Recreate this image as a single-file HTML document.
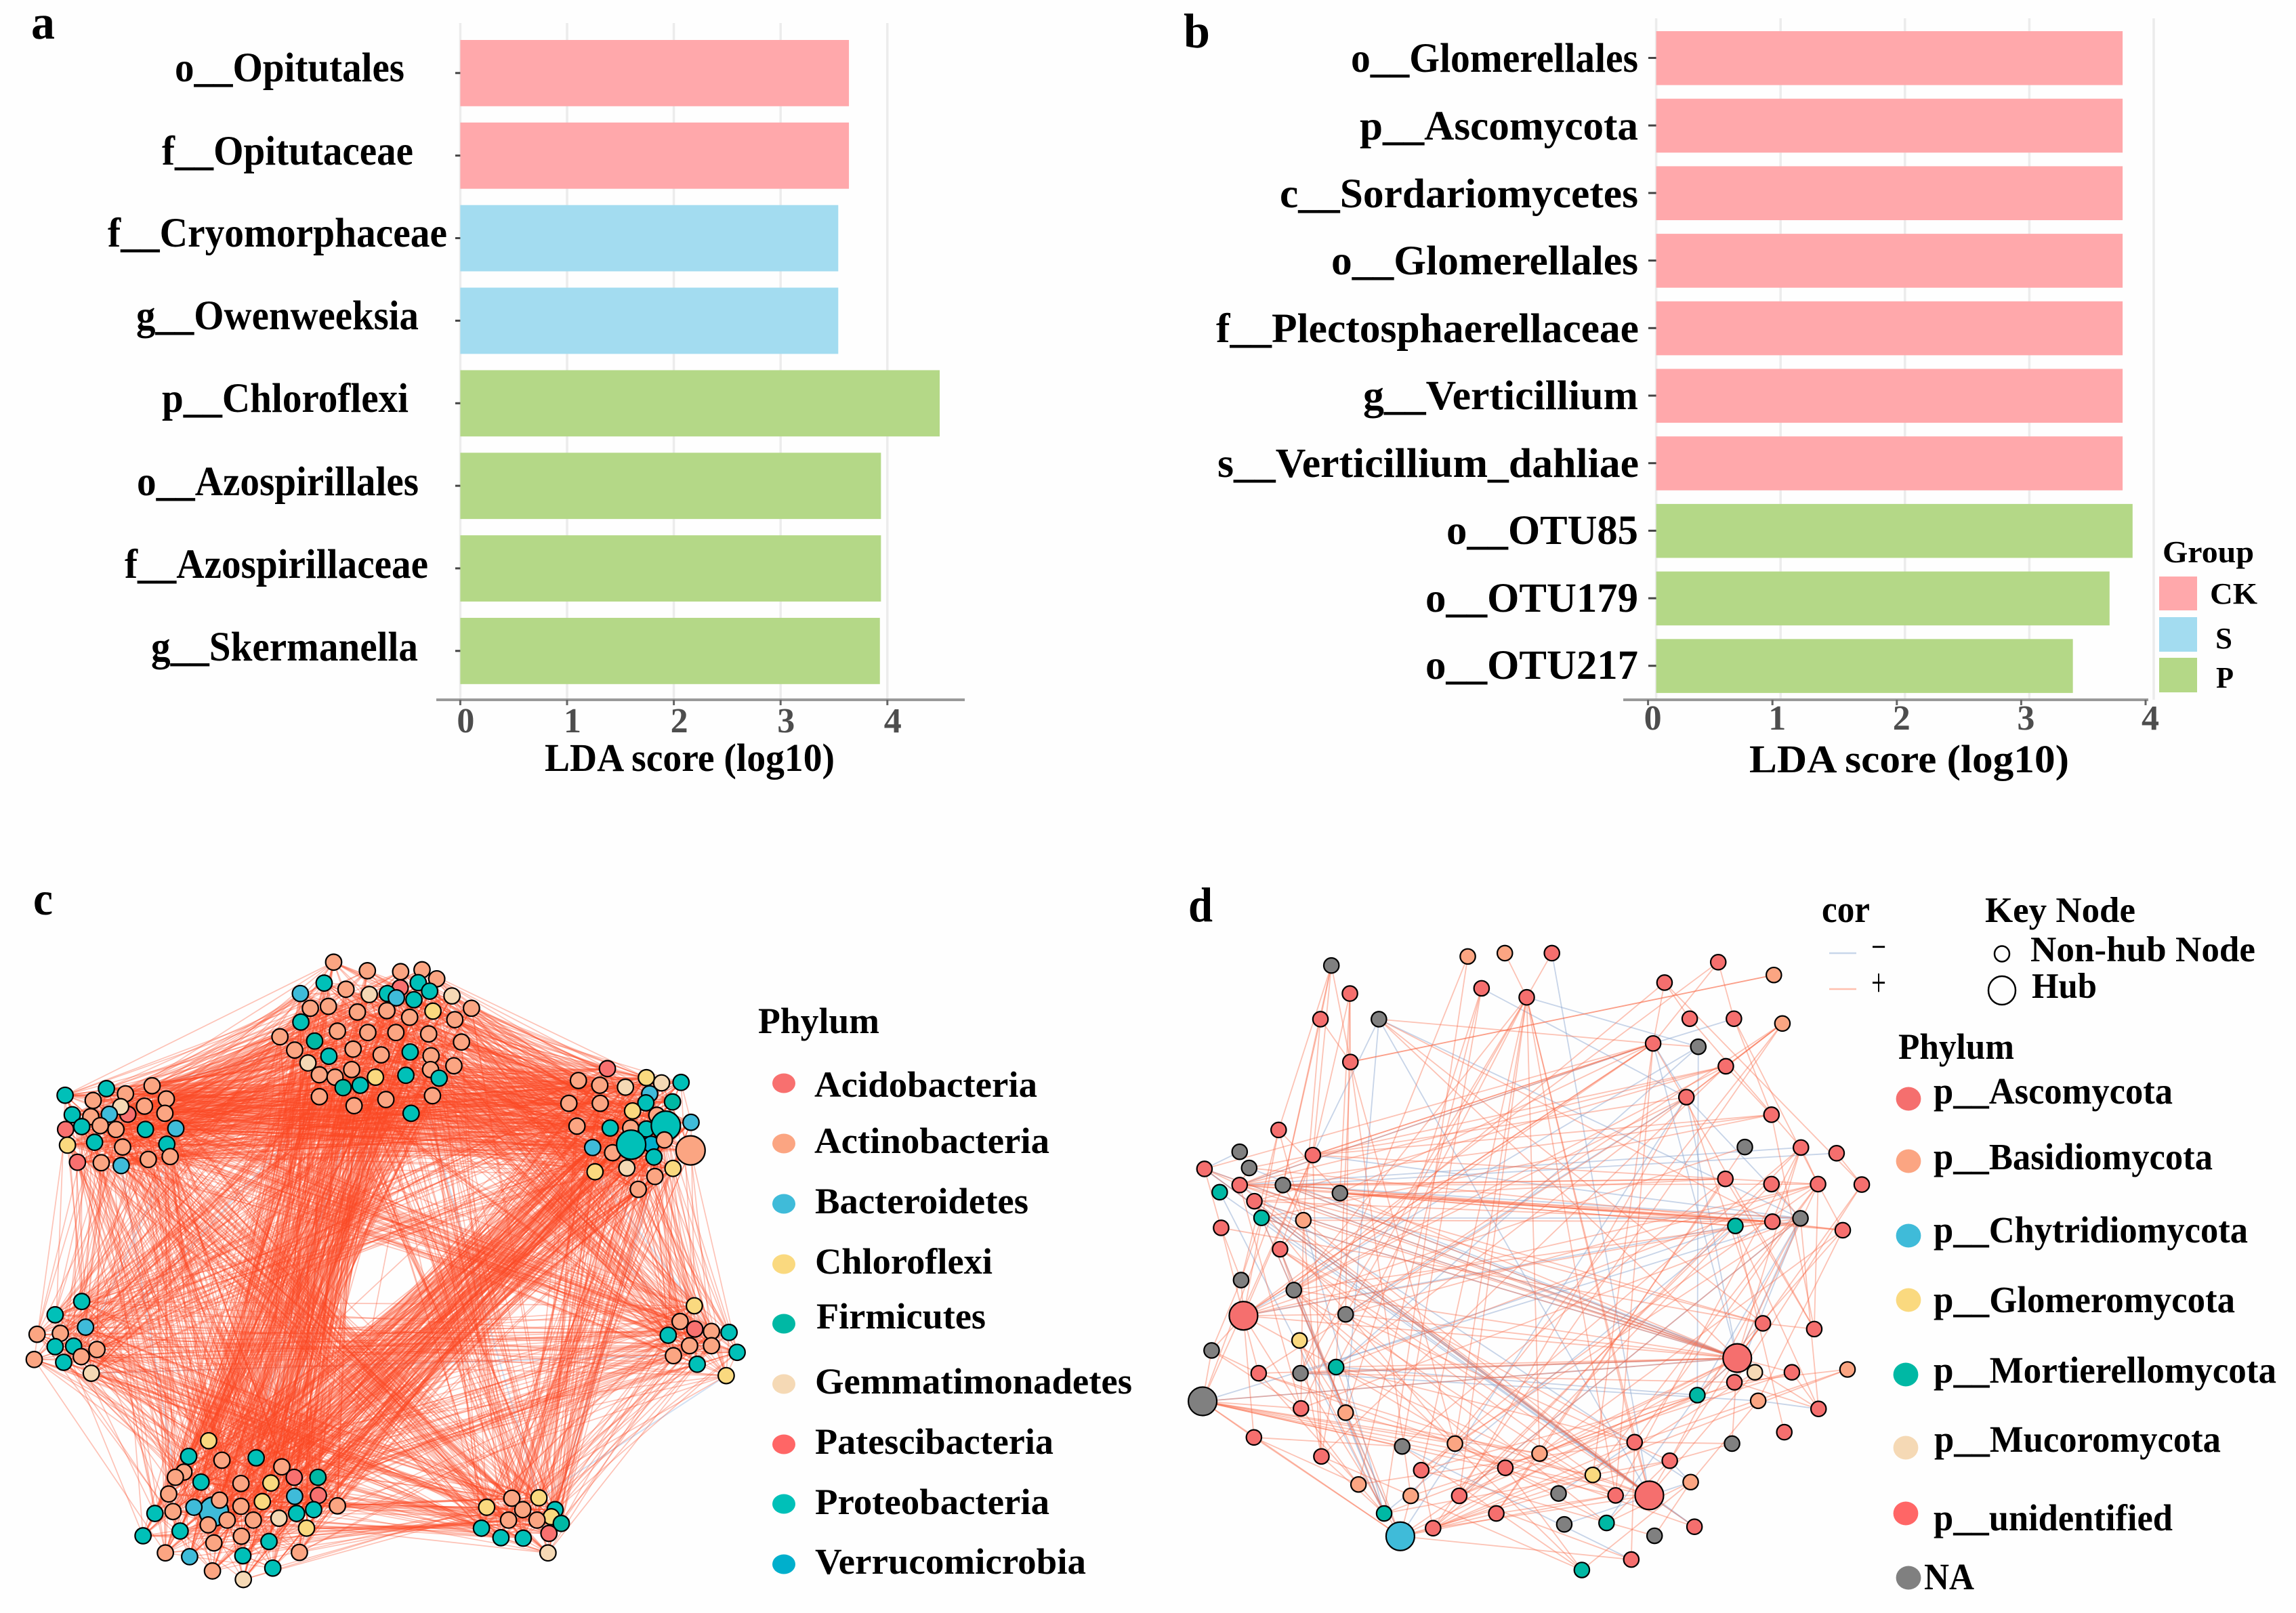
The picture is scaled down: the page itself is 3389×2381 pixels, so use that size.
<!DOCTYPE html>
<html lang="en">
<head>
<meta charset="utf-8">
<title>LDA scores and co-occurrence networks</title>
<style>
html,body{margin:0;padding:0;background:#fefefe}
svg{display:block}
text{font-family:"Liberation Serif",serif;font-weight:bold;fill:#000}
</style>
</head>
<body>
<svg id="figure" xmlns="http://www.w3.org/2000/svg" width="3389" height="2381" viewBox="0 0 3389 2381">
<rect width="3389" height="2381" fill="#fefefe"/>
<g id="panelA"></g>
<g id="panelB"></g>
<g id="panelC"></g>
<g id="panelD"></g>

<text x="46" y="57" font-size="72" textLength="35" lengthAdjust="spacingAndGlyphs">a</text>
<text x="1747" y="70" font-size="72" textLength="39" lengthAdjust="spacingAndGlyphs">b</text>
<text x="49" y="1350" font-size="70" textLength="29" lengthAdjust="spacingAndGlyphs">c</text>
<text x="1754" y="1360" font-size="72" textLength="36" lengthAdjust="spacingAndGlyphs">d</text>

<g font-size="61">
<text x="258" y="120" textLength="339" lengthAdjust="spacingAndGlyphs">o__Opitutales</text>
<text x="239" y="243" textLength="371" lengthAdjust="spacingAndGlyphs">f__Opitutaceae</text>
<text x="159" y="364" textLength="501" lengthAdjust="spacingAndGlyphs">f__Cryomorphaceae</text>
<text x="201" y="486" textLength="417" lengthAdjust="spacingAndGlyphs">g__Owenweeksia</text>
<text x="239" y="608" textLength="364" lengthAdjust="spacingAndGlyphs">p__Chloroflexi</text>
<text x="202" y="731" textLength="416" lengthAdjust="spacingAndGlyphs">o__Azospirillales</text>
<text x="184" y="853" textLength="448" lengthAdjust="spacingAndGlyphs">f__Azospirillaceae</text>
<text x="223" y="975" textLength="394" lengthAdjust="spacingAndGlyphs">g__Skermanella</text>
</g>
<text x="804" y="1138" font-size="58" textLength="428" lengthAdjust="spacingAndGlyphs">LDA score (log10)</text>

<g font-size="61">
<text x="1994" y="106" textLength="424" lengthAdjust="spacingAndGlyphs">o__Glomerellales</text>
<text x="2007" y="206" textLength="411" lengthAdjust="spacingAndGlyphs">p__Ascomycota</text>
<text x="1889" y="306" textLength="529" lengthAdjust="spacingAndGlyphs">c__Sordariomycetes</text>
<text x="1965" y="405" textLength="453" lengthAdjust="spacingAndGlyphs">o__Glomerellales</text>
<text x="1795" y="505" textLength="624" lengthAdjust="spacingAndGlyphs">f__Plectosphaerellaceae</text>
<text x="2012" y="604" textLength="406" lengthAdjust="spacingAndGlyphs">g__Verticillium</text>
<text x="1797" y="704" textLength="622" lengthAdjust="spacingAndGlyphs">s__Verticillium_dahliae</text>
<text x="2135" y="803" textLength="283" lengthAdjust="spacingAndGlyphs">o__OTU85</text>
<text x="2104" y="903" textLength="314" lengthAdjust="spacingAndGlyphs">o__OTU179</text>
<text x="2104" y="1002" textLength="314" lengthAdjust="spacingAndGlyphs">o__OTU217</text>
</g>
<text x="2582" y="1140" font-size="58" textLength="472" lengthAdjust="spacingAndGlyphs">LDA score (log10)</text>

<g>
<text x="3192" y="830" font-size="46" textLength="135" lengthAdjust="spacingAndGlyphs">Group</text>
<rect x="3187" y="851" width="56" height="50" fill="#ffa8ab"/>
<rect x="3187" y="911" width="56" height="51" fill="#a3dcf0"/>
<rect x="3187" y="971" width="56" height="51" fill="#b4d887"/>
<text x="3262" y="891" font-size="44" textLength="70" lengthAdjust="spacingAndGlyphs">CK</text>
<text x="3270" y="957" font-size="44" textLength="25" lengthAdjust="spacingAndGlyphs">S</text>
<text x="3271" y="1015" font-size="44" textLength="26" lengthAdjust="spacingAndGlyphs">P</text>
</g>

<g font-size="54">
<text x="1119" y="1525" textLength="179" lengthAdjust="spacingAndGlyphs">Phylum</text>
<ellipse cx="1157" cy="1599" rx="17" ry="14.5" fill="#f8706f"/>
<ellipse cx="1157" cy="1688" rx="17" ry="14.5" fill="#fba582"/>
<ellipse cx="1157" cy="1777" rx="17" ry="14.5" fill="#3fbbd9"/>
<ellipse cx="1157" cy="1866" rx="17" ry="14.5" fill="#fad97f"/>
<ellipse cx="1157" cy="1954" rx="17" ry="14.5" fill="#00b8a4"/>
<ellipse cx="1157" cy="2043" rx="17" ry="14.5" fill="#f5d9b5"/>
<ellipse cx="1157" cy="2132" rx="17" ry="14.5" fill="#ff6666"/>
<ellipse cx="1157" cy="2220" rx="17" ry="14.5" fill="#00c0b8"/>
<ellipse cx="1157" cy="2309" rx="17" ry="14.5" fill="#00afcc"/>
<text x="1202" y="1619" textLength="329" lengthAdjust="spacingAndGlyphs">Acidobacteria</text>
<text x="1202" y="1702" textLength="347" lengthAdjust="spacingAndGlyphs">Actinobacteria</text>
<text x="1203" y="1791" textLength="315" lengthAdjust="spacingAndGlyphs">Bacteroidetes</text>
<text x="1203" y="1880" textLength="262" lengthAdjust="spacingAndGlyphs">Chloroflexi</text>
<text x="1205" y="1961" textLength="250" lengthAdjust="spacingAndGlyphs">Firmicutes</text>
<text x="1203" y="2057" textLength="468" lengthAdjust="spacingAndGlyphs">Gemmatimonadetes</text>
<text x="1203" y="2146" textLength="352" lengthAdjust="spacingAndGlyphs">Patescibacteria</text>
<text x="1203" y="2235" textLength="346" lengthAdjust="spacingAndGlyphs">Proteobacteria</text>
<text x="1203" y="2323" textLength="400" lengthAdjust="spacingAndGlyphs">Verrucomicrobia</text>
</g>

<g>
<text x="2689" y="1361" font-size="56" textLength="71" lengthAdjust="spacingAndGlyphs">cor</text>
<line x1="2700" x2="2740" y1="1407" y2="1407" stroke="#c8d6ea" stroke-width="2.5"/>
<line x1="2700" x2="2740" y1="1460" y2="1460" stroke="#ffc0ae" stroke-width="2.5"/>
<text x="2762" y="1417" font-size="58" textLength="22" lengthAdjust="spacingAndGlyphs" style="font-weight:normal">−</text>
<text x="2762" y="1470" font-size="58" textLength="22" lengthAdjust="spacingAndGlyphs" style="font-weight:normal">+</text>
<text x="2930" y="1361" font-size="53" textLength="222" lengthAdjust="spacingAndGlyphs">Key Node</text>
<ellipse cx="2955" cy="1408" rx="11" ry="11.5" fill="none" stroke="#000" stroke-width="2.5"/>
<ellipse cx="2955" cy="1462" rx="20" ry="21" fill="none" stroke="#000" stroke-width="2.5"/>
<text x="2997" y="1419" font-size="53" textLength="332" lengthAdjust="spacingAndGlyphs">Non-hub Node</text>
<text x="2999" y="1473" font-size="53" textLength="96" lengthAdjust="spacingAndGlyphs">Hub</text>
<text x="2802" y="1563" font-size="54" textLength="171" lengthAdjust="spacingAndGlyphs">Phylum</text>
<ellipse cx="2817" cy="1622" rx="18.4" ry="17.5" fill="#f56f6e"/>
<ellipse cx="2817" cy="1714" rx="18.4" ry="17.5" fill="#fba582"/>
<ellipse cx="2817" cy="1824" rx="18.4" ry="17.5" fill="#3fbbd9"/>
<ellipse cx="2817" cy="1919" rx="18.4" ry="17.5" fill="#fad97f"/>
<ellipse cx="2813" cy="2029" rx="18.4" ry="17.5" fill="#00b8a4"/>
<ellipse cx="2813" cy="2137" rx="18.4" ry="17.5" fill="#f5d9b5"/>
<ellipse cx="2813" cy="2234" rx="18.4" ry="17.5" fill="#ff6666"/>
<ellipse cx="2817" cy="2329" rx="18.4" ry="17.5" fill="#808080"/>
<g font-size="55">
<text x="2854" y="1629" textLength="353" lengthAdjust="spacingAndGlyphs">p__Ascomycota</text>
<text x="2854" y="1726" textLength="412" lengthAdjust="spacingAndGlyphs">p__Basidiomycota</text>
<text x="2854" y="1834" textLength="464" lengthAdjust="spacingAndGlyphs">p__Chytridiomycota</text>
<text x="2854" y="1937" textLength="445" lengthAdjust="spacingAndGlyphs">p__Glomeromycota</text>
<text x="2854" y="2041" textLength="506" lengthAdjust="spacingAndGlyphs">p__Mortierellomycota</text>
<text x="2855" y="2143" textLength="423" lengthAdjust="spacingAndGlyphs">p__Mucoromycota</text>
<text x="2854" y="2259" textLength="353" lengthAdjust="spacingAndGlyphs">p__unidentified</text>
<text x="2840" y="2346" textLength="74" lengthAdjust="spacingAndGlyphs">NA</text>
</g>
</g>
</svg>

<script>
// ---- panel a data ----
var aValues = [3.64, 3.64, 3.54, 3.54, 4.49, 3.94, 3.94, 3.93];
var aGroups = ['CK', 'CK', 'S', 'S', 'P', 'P', 'P', 'P'];
var aTicks = [0, 1, 2, 3, 4];

// ---- panel b data ----
var bValues = [3.75, 3.75, 3.75, 3.75, 3.75, 3.75, 3.75, 3.83, 3.645, 3.35];
var bGroups = ['CK', 'CK', 'CK', 'CK', 'CK', 'CK', 'CK', 'P', 'P', 'P'];
var bTicks = [0, 1, 2, 3, 4];

var groupColors = {CK: '#ffa8ab', S: '#a3dcf0', P: '#b4d887'};

// ---- panel c data: node layout [layoutX, layoutY, phylum, hub] ----
var moduleTop = [[702,200,'an'],[773,218,'an'],[843,220,'an'],[888,216,'an'],[919,235,'an'],[842,254,'ac'],[880,243,'pr'],[682,244,'pr'],[632,266,'ba'],[728,257,'an'],[777,268,'ge'],[815,266,'pr'],[834,275,'ba'],[871,279,'pr'],[904,261,'pr'],[951,271,'ge'],[992,297,'an'],[653,297,'an'],[691,293,'an'],[752,305,'an'],[814,302,'an'],[911,303,'ch'],[862,316,'an'],[957,321,'an'],[633,326,'pr'],[589,357,'an'],[710,345,'an'],[774,348,'an'],[833,348,'an'],[902,351,'an'],[971,368,'an'],[662,366,'fi'],[620,385,'an'],[743,383,'an'],[802,395,'an'],[863,389,'pr'],[907,397,'an'],[692,398,'pr'],[648,412,'ge'],[955,418,'an'],[740,426,'an'],[906,426,'an'],[672,437,'an'],[705,442,'an'],[790,442,'ch'],[854,438,'pr'],[924,444,'pr'],[758,459,'pr'],[722,464,'fi'],[672,483,'an'],[745,502,'an'],[812,489,'an'],[910,481,'an'],[865,518,'pr']];
var moduleTopRight = [[1278,424,'ac'],[1217,449,'an'],[1262,459,'an'],[1316,463,'ge'],[1360,443,'ch'],[1392,454,'ge'],[1433,453,'pr'],[1367,477,'ba'],[1415,494,'fi'],[1197,497,'an'],[1263,497,'an'],[1359,496,'pr'],[1331,513,'ch'],[1382,522,'an'],[1214,545,'an'],[1284,549,'pr'],[1327,549,'an'],[1360,551,'pr'],[1401,544,'pr',1],[1454,537,'ba'],[1370,583,'ve'],[1247,590,'ba'],[1289,601,'an'],[1328,584,'pr',1],[1398,574,'an'],[1376,610,'pr'],[1453,596,'an',1],[1319,633,'ge'],[1416,634,'ch'],[1252,641,'ch'],[1378,651,'an'],[1343,678,'an']];
var moduleRight = [[1461,923,'ch'],[1431,956,'an'],[1462,972,'ac'],[1497,977,'an'],[1534,979,'pr'],[1406,985,'pr'],[1451,1007,'an'],[1497,1007,'an'],[1551,1021,'pr'],[1417,1028,'an'],[1467,1046,'pr'],[1528,1070,'ch']];
var moduleBottomRight = [[1077,1328,'an'],[1134,1327,'ch'],[1024,1347,'ch'],[1168,1352,'pr'],[1100,1352,'an'],[1160,1367,'ch'],[1070,1374,'an'],[1130,1374,'an'],[1181,1381,'fi'],[1013,1391,'pr'],[1155,1402,'ac'],[1054,1411,'pr'],[1101,1412,'pr'],[1153,1443,'ge']];
var moduleBottomLeft = [[439,1207,'ch'],[397,1240,'pr'],[467,1248,'an'],[539,1243,'pr'],[593,1262,'an'],[387,1273,'an'],[369,1284,'an'],[619,1284,'ac'],[669,1284,'fi'],[423,1294,'pr'],[507,1297,'an'],[570,1296,'ch'],[355,1319,'an'],[620,1324,'ba'],[670,1322,'ac'],[450,1356,'ba',1],[462,1332,'an'],[552,1335,'ch'],[507,1345,'an'],[710,1344,'an'],[408,1347,'ba'],[326,1360,'pr'],[364,1356,'an'],[660,1352,'pr'],[624,1360,'pr'],[587,1370,'ge'],[478,1374,'an'],[533,1374,'an'],[438,1384,'an'],[645,1391,'ch'],[379,1397,'pr'],[301,1407,'pr'],[508,1408,'an'],[566,1419,'pr'],[450,1422,'an'],[348,1443,'an'],[630,1442,'an'],[399,1451,'ba'],[511,1449,'pr'],[574,1475,'pr'],[447,1481,'an'],[512,1499,'ge']];
var moduleLeft = [[172,914,'pr'],[116,942,'pr'],[180,968,'ba'],[78,983,'an'],[127,981,'an'],[116,1009,'pr'],[155,1008,'pr'],[204,1015,'an'],[171,1030,'an'],[72,1036,'an'],[134,1042,'pr'],[192,1065,'ge']];
var moduleLeftTop = [[137,480,'pr'],[224,466,'pr'],[196,491,'an'],[264,477,'an'],[320,460,'an'],[350,488,'an'],[304,503,'an'],[347,518,'an'],[269,520,'ac'],[254,504,'ge'],[230,520,'ba'],[191,525,'an'],[152,521,'pr'],[211,544,'an'],[172,546,'pr'],[138,552,'ac'],[244,552,'an'],[306,552,'pr'],[370,550,'ba'],[199,579,'pr'],[142,585,'ch'],[258,589,'an'],[351,583,'pr'],[358,609,'an'],[312,615,'an'],[163,621,'ac'],[213,622,'an'],[255,628,'ba']];
var modulesC = [moduleTop, moduleTopRight, moduleRight, moduleBottomRight, moduleBottomLeft, moduleLeft, moduleLeftTop];
// number of edges between module pairs: [moduleA, moduleB, count]
var moduleLinks = [[0,0,70],[1,1,60],[2,2,20],[3,3,20],[4,4,80],[5,5,16],[6,6,45],[0,1,220],[0,6,210],[0,4,340],[0,3,100],[0,5,75],[0,2,60],[1,6,170],[1,4,240],[1,3,75],[1,2,50],[1,5,65],[6,4,120],[6,3,70],[6,2,45],[6,5,35],[5,4,40],[5,3,40],[5,2,30],[4,3,65],[4,2,60],[3,2,25]];
// thinned parts of the mesh: [centerX, centerY, radius, keepOneIn]
var thinRegionsC = [[800,860,60,25],[990,660,50,2],[1040,1210,55,2],[300,800,40,2]];
// negative edges [moduleA, nodeA, moduleB, nodeB]
var negLinksC = [[0,32,6,4],[0,38,1,9],[0,35,3,1],[0,28,4,3],[1,30,3,3],[0,40,5,7],[6,27,4,6],[6,23,5,8],[0,47,4,10],[1,29,2,0],[5,11,2,9],[0,36,2,1],[3,1,2,11],[0,22,4,17]];

var phylumColorsC = {ac:'#f8706f', an:'#fba582', ba:'#3fbbd9', ch:'#fad97f', fi:'#00b8a4', ge:'#f5d9b5', pr:'#00c0b8', ve:'#00afcc'};

// ---- panel d data ----
var layoutXD = [321,608,686,785,1135,1252,1022,360,637,732,298,421,1075,1168,1270,998,1093,361,1151,1068,1247,210,1191,1309,1384,128,282,54,148,1150,1247,1345,1437,128,219,86,339,159,174,262,1308,1249,1171,89,1397,213,131,242,136,351,1229,1337,254,69,1175,331,168,256,1212,1290,1407,1169,1091,50,1219,1346,257,351,1274,158,959,1164,470,581,300,759,1033,687,510,871,378,1077,488,590,799,919,990,432,668,811,900,535,466,1085,1001,952,848];
var layoutYD = [207,188,181,181,200,227,243,266,255,274,320,320,319,319,329,371,378,410,419,484,521,553,589,590,602,599,606,635,633,656,667,667,668,669,669,684,686,703,738,743,739,746,755,759,764,804,869,890,944,941,960,972,996,1017,1033,1052,1065,1065,1063,1063,1057,1084,1111,1124,1123,1140,1139,1148,1189,1200,1210,1213,1219,1213,1240,1234,1249,1264,1269,1279,1299,1294,1323,1323,1318,1322,1322,1360,1360,1383,1380,1391,1408,1388,1407,1457,1479];
var phylaD = ['n','b','b','s','s','b','s','s','s','s','s','n','s','s','b','s','n','s','s','s','s','s','n','s','s','n','s','s','n','s','s','s','s','s','n','m','n','s','m','b','n','s','m','s','s','s','n','n','s','n','s','s','g','n','s','m','s','n','u','s','b','s','m','n','b','s','s','b','s','s','s','n','n','b','s','b','s','s','s','g','b','b','b','s','n','s','s','m','s','n','m','s','t','s','n','s','m'];
var hubsD = [48, 54, 63, 86, 92];
var phylumColorsD = {s:'#f56f6e', b:'#fba582', t:'#3fbbd9', g:'#fad97f', m:'#00b8a4', u:'#f5d9b5', n:'#808080'};
var posEdgesD = [[0,10],[0,17],[0,21],[0,26],[0,34],[7,26],[7,36],[7,49],[7,17],[10,17],[10,34],[10,39],[17,5],[17,73],[17,82],[17,55],[1,57],[1,87],[2,9],[3,9],[8,72],[8,80],[8,67],[9,47],[9,49],[9,55],[9,78],[9,57],[9,70],[9,85],[9,86],[9,73],[9,83],[9,75],
[11,15],[11,41],[11,54],[11,50],[4,15],[4,13],[4,48],[5,17],[6,15],[6,12],[6,32],[6,47],[12,23],[13,31],[13,20],[14,18],[14,19],[14,55],[14,49],[14,82],[14,91],[15,16],[15,26],[15,26],[15,33],[15,27],[15,48],[15,47],[15,79],[15,85],[15,51],[15,36],
[18,26],[18,33],[18,37],[18,20],[18,47],[18,74],[19,26],[19,48],[19,56],[19,83],[19,50],[20,26],[20,33],[20,38],[20,51],[22,48],[22,75],[23,31],[23,41],[23,78],[23,91],[23,85],[24,32],[30,83],[30,40],[31,49],[31,55],[31,70],[31,79],[31,78],[31,44],[31,26],[31,33],[32,54],[32,61],
[29,33],[29,37],[29,34],[29,72],[29,88],[29,51],[40,66],[40,76],[40,83],[40,47],[40,65],[40,73],[40,36],[41,33],[41,37],[41,36],[41,34],[41,48],[41,39],[42,33],[42,77],[42,68],[42,65],[42,36],[44,28],[44,34],[44,62],[44,75],[44,41],
[21,48],[21,46],[21,39],[21,36],[26,48],[26,33],[26,28],[26,45],[26,74],[27,43],[27,33],[27,54],[27,86],[33,28],[33,54],[33,86],[33,66],[33,50],[34,54],[34,39],[34,50],[36,54],[36,41],[37,54],[37,86],[37,67],[37,73],[38,54],[38,46],[39,54],[39,86],[39,45],[39,66],[39,74],[43,46],[43,48],
[45,86],[45,47],[45,67],[45,70],[45,79],[46,48],[46,53],[47,54],[47,77],[47,67],[47,85],[47,96],[48,54],[48,53],[48,56],[48,66],[48,69],[48,49],[48,15],[48,31],[48,55],[49,54],[49,66],[49,76],[49,90],[52,87],[52,67],[52,74],[53,56],[53,63],[53,66],[55,54],[55,70],[55,74],[55,77],[55,85],[55,92],[56,54],[56,86],[56,73],[56,80],[57,54],[57,61],[57,92],[58,86],[58,79],
[54,62],[54,76],[54,71],[54,23],[54,31],[54,50],[54,59],[54,77],[54,83],[54,91],[59,82],[59,62],[60,61],[60,91],[60,70],[61,83],[62,75],[62,78],[62,92],[64,81],[64,44],[65,59],[65,54],[65,61],[51,50],[51,31],[50,43],[50,54],
[63,54],[63,75],[63,85],[63,86],[63,73],[63,72],[63,69],[63,92],[63,66],[63,79],[63,26],[63,34],[66,75],[66,80],[67,87],[67,73],[67,92],[69,92],[69,80],[69,72],[70,80],[70,86],[70,91],[70,95],[72,96],[73,93],[73,90],[73,84],[74,87],[74,96],[75,85],[75,88],[75,62],[76,86],[76,87],[76,90],[77,87],[77,91],[77,96],[78,91],[78,94],[79,91],[79,86],[80,87],[81,96],[81,90],[82,92],[83,92],[83,95],[85,86],[85,92],[86,93],[86,91],[88,92],[88,85],[92,95],[94,81],[71,92],[71,70]];
var negEdgesD = [[3,86],[8,19],[9,16],[11,26],[11,67],[11,40],[11,86],[13,15],[15,33],[15,19],[15,54],[16,55],[16,62],[19,54],[19,40],[23,33],[24,34],[27,25],[27,86],[27,54],[27,93],[28,54],[33,81],[34,54],[34,40],[35,87],[35,86],[37,54],[37,86],[38,54],[38,86],[38,92],[38,40],[39,87],[42,48],[42,57],[42,87],[45,87],[47,87],[40,54],[40,62],[40,61],[40,83],[26,40],[48,16],[49,19],[55,62],[57,54],[57,64],[63,54],[63,40],[64,65],[54,62],[62,90],[70,84],[72,95],[76,81],[81,89],[86,93],[92,19]];

var SVG_NS = 'http://www.w3.org/2000/svg';
function mk(parent, tag, attrs) {
  var el = document.createElementNS(SVG_NS, tag);
  for (var k in attrs) el.setAttribute(k, attrs[k]);
  parent.appendChild(el);
  return el;
}

// ---- bar chart a ----
var panelA = document.getElementById('panelA');
function xA(v) { return 679.4 + v * 157.6; }
function yA(i) { return 59 + i * 121.86; }
var aTickMarkY = function (i) { return yA(i) + 48.8; };
aTicks.forEach(function (t) {
  var g = mk(panelA, 'line', {x1: xA(t), x2: xA(t), y1: 34, y2: 1033, stroke: '#ececec', 'stroke-width': 3.5});
  
  
});
aValues.forEach(function (v, i) {
  var b = mk(panelA, 'rect', {x: xA(0), y: yA(i), width: xA(v) - xA(0), height: 97.8, fill: groupColors[aGroups[i]]});
  
  
  var m = mk(panelA, 'line', {x1: 672, x2: xA(0), y1: aTickMarkY(i), y2: aTickMarkY(i), stroke: '#444', 'stroke-width': 3});
  
  
});
var axA = mk(panelA, 'line', {x1: 644, x2: 1424, y1: 1033, y2: 1033, stroke: '#999', 'stroke-width': 4});


aTicks.forEach(function (t) {
  var m = mk(panelA, 'line', {x1: xA(t), x2: xA(t), y1: 1033, y2: 1041, stroke: '#666', 'stroke-width': 3});
  
  
  var l = mk(panelA, 'text', {x: xA(t) + 8, y: 1081, 'font-size': 52, 'text-anchor': 'middle', style: 'fill:#4d4d4d'});
  l.textContent = t;
  
  
});

// ---- bar chart b ----
var panelB = document.getElementById('panelB');
function xB(v) { return 2444.6 + v * 183.6; }
function yB(i) { return 46 + i * 99.7; }
bTicks.forEach(function (t) {
  var g = mk(panelB, 'line', {x1: xB(t), x2: xB(t), y1: 27, y2: 1033, stroke: '#ececec', 'stroke-width': 3.5});
  
  
});
bValues.forEach(function (v, i) {
  var b = mk(panelB, 'rect', {x: xB(0), y: yB(i), width: xB(v) - xB(0), height: 79.6, fill: groupColors[bGroups[i]]});
  
  
  var m = mk(panelB, 'line', {x1: 2433, x2: xB(0), y1: yB(i) + 39.5, y2: yB(i) + 39.5, stroke: '#444', 'stroke-width': 3});
  
  
});
var axB = mk(panelB, 'line', {x1: 2396, x2: 3171, y1: 1033, y2: 1033, stroke: '#999', 'stroke-width': 4});


bTicks.forEach(function (t) {
  var m = mk(panelB, 'line', {x1: xB(t) - 12, x2: xB(t) - 12, y1: 1033, y2: 1041, stroke: '#666', 'stroke-width': 3});
  
  
  var l = mk(panelB, 'text', {x: xB(t) - 5, y: 1077, 'font-size': 52, 'text-anchor': 'middle', style: 'fill:#4d4d4d'});
  l.textContent = t;
  
  
});

// ---- network c ----
var panelC = document.getElementById('panelC');
function xC(u) { return u / 1.4255; }
function yC(u) { return 1280 + u / 1.4255; }
function segDist(px, py, a, b) {
  var dx = b[0] - a[0], dy = b[1] - a[1];
  var t = ((px - a[0]) * dx + (py - a[1]) * dy) / (dx * dx + dy * dy || 1);
  t = Math.max(0, Math.min(1, t));
  var qx = a[0] + t * dx - px, qy = a[1] + t * dy - py;
  return Math.sqrt(qx * qx + qy * qy);
}
function keepEdge(a, b, k) {
  for (var i = 0; i < thinRegionsC.length; i++) {
    var reg = thinRegionsC[i];
    if (segDist(reg[0], reg[1], a, b) < reg[2] && k % reg[3] !== 0) return false;
  }
  return true;
}
function gcd(p, q) { return q ? gcd(q, p % q) : p; }
negLinksC.forEach(function (e) {
  var a = modulesC[e[0]][e[1]], b = modulesC[e[2]][e[3]];
  var ln = mk(panelC, 'line', {x1: xC(a[0]), y1: yC(a[1]), x2: xC(b[0]), y2: yC(b[1]), stroke: '#b4cdec', 'stroke-width': 2, 'stroke-opacity': 0.6});
  
  
});
moduleLinks.forEach(function (link) {
  var A = modulesC[link[0]], B = modulesC[link[1]];
  var total = A.length * B.length;
  var count = Math.min(link[2], total);
  var stride = Math.round(total * 0.618);
  while (gcd(stride, total) !== 1) stride++;
  for (var k = 0; k < count; k++) {
    var t = (k * stride) % total;
    var a = A[t % A.length], b = B[Math.floor(t / A.length)];
    if (a === b || !keepEdge(a, b, k)) continue;
    var ln = mk(panelC, 'line', {x1: xC(a[0]), y1: yC(a[1]), x2: xC(b[0]), y2: yC(b[1]), stroke: '#fb4a24', 'stroke-width': 1.7, 'stroke-opacity': 0.33});
    
    
  }
});
modulesC.forEach(function (mod) {
  mod.forEach(function (n) {
    var c = mk(panelC, 'circle', {cx: xC(n[0]), cy: yC(n[1]), r: n[3] ? 21.5 : 11.8, fill: phylumColorsC[n[2]], stroke: '#000', 'stroke-width': 2.2});
    
    
  });
});

// ---- network d ----
var panelD = document.getElementById('panelD');
function xD(u) { return 1740 + u / 1.4255; }
function yD(u) { return 1280 + u / 1.4255; }
negEdgesD.forEach(function (e) {
  var ln = mk(panelD, 'line', {x1: xD(layoutXD[e[0]]), y1: yD(layoutYD[e[0]]), x2: xD(layoutXD[e[1]]), y2: yD(layoutYD[e[1]]), stroke: '#8fa9d2', 'stroke-width': 1.8, 'stroke-opacity': 0.5});
  
  
});
posEdgesD.forEach(function (e) {
  var ln = mk(panelD, 'line', {x1: xD(layoutXD[e[0]]), y1: yD(layoutYD[e[0]]), x2: xD(layoutXD[e[1]]), y2: yD(layoutYD[e[1]]), stroke: '#fb6a45', 'stroke-width': 1.8, 'stroke-opacity': 0.4});
  
  
});
layoutXD.forEach(function (x, i) {
  var c = mk(panelD, 'circle', {cx: xD(x), cy: yD(layoutYD[i]), r: hubsD.indexOf(i) >= 0 ? 21 : 11.2, fill: phylumColorsD[phylaD[i]], stroke: '#000', 'stroke-width': 2.2});
  
  
});
</script>
</body>
</html>
